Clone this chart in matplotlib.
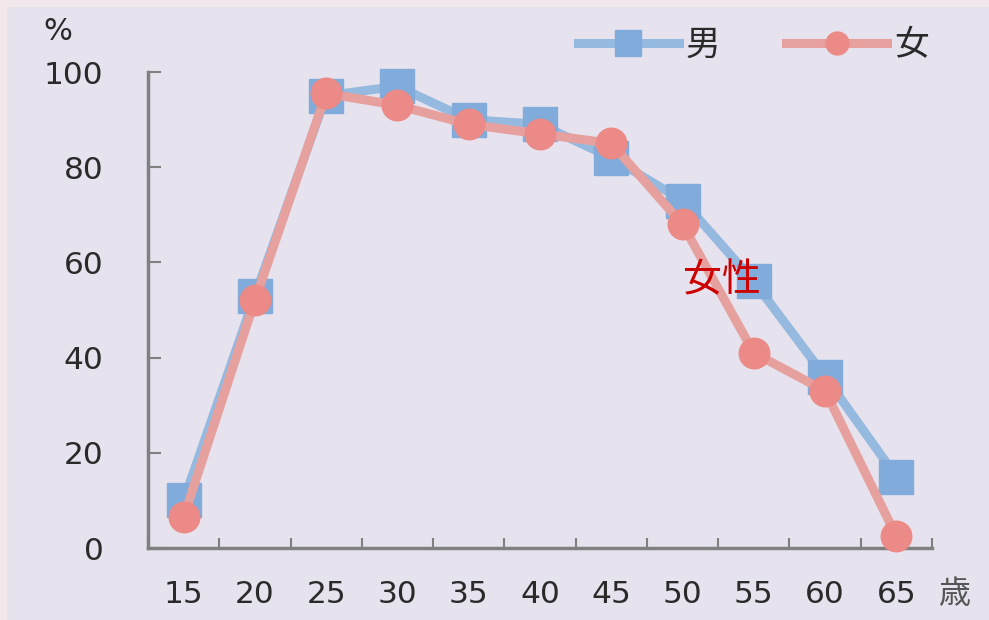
import numpy as np
import matplotlib.pyplot as plt
from matplotlib.patches import Rectangle

plt.rcParams['font.family'] = ['DejaVu Sans', 'Noto Sans CJK JP']

# age groups and labour force participation (%)
ages = ['15', '20', '25', '30', '35', '40', '45', '50', '55', '60', '65']
male = [10, 53, 95, 97, 90, 89, 82, 73, 56, 36, 15]
female = [6.5, 52, 95.5, 93, 89, 87, 85, 68, 41, 33, 2.5]

fig = plt.figure(figsize=(9.89, 6.2), dpi=100)
fig.patch.set_facecolor('#f2e8ec')
fig.patches.append(Rectangle((7 / 989, 0), 1, 1 - 7 / 620, transform=fig.transFigure,
                             facecolor='#e7e3ee', edgecolor='none', zorder=-10))

ax = fig.add_axes([148 / 989, 1 - 548 / 620, (932 - 148) / 989, (548 - 72) / 620])
ax.set_facecolor('none')

x = np.arange(len(ages))
ax.plot(x, male, color='#96b9df', lw=6.5, marker='s', ms=25,
        mfc='#80abda', mec='#80abda', label='男', zorder=3, clip_on=False)
ax.plot(x, female, color='#e6a09e', lw=6.5, marker='o', ms=22,
        mfc='#eb8a86', mec='#eb8a86', label='女', zorder=4, clip_on=False)

ax.set_xlim(-0.5, len(ages) - 0.5)
ax.set_ylim(0, 100)
ax.set_yticks([0, 20, 40, 60, 80, 100])
ax.set_xticks(x)
ax.set_xticklabels(ages)
ax.set_xticks(np.arange(-0.5, len(ages)), minor=True)

for s in ['top', 'right']:
    ax.spines[s].set_visible(False)
for s in ['left', 'bottom']:
    ax.spines[s].set_color('#808080')
    ax.spines[s].set_linewidth(2.5)

ax.tick_params(axis='x', which='major', length=0, pad=23, labelsize=22.5, labelcolor='#2a2a2a')
ax.tick_params(axis='x', which='minor', length=7, width=1.5, direction='in', color='#808080')
ax.tick_params(axis='y', length=9, width=1.5, direction='in', color='#808080',
               pad=32, labelsize=22.5, labelcolor='#2a2a2a')

fig.text(58 / 989, 1 - 32 / 620, '%', fontsize=22, color='#2a2a2a', ha='center', va='center')
fig.text(955 / 989, 1 - 594 / 620, '歳', fontsize=23, color='#555555', ha='center', va='center')
fig.text(722 / 989, 1 - 280 / 620, '女性', fontsize=28, color='#cc0000', ha='center', va='center',
         zorder=10)

leg = ax.legend(loc='center right', bbox_to_anchor=(960 / 989, 1 - 45 / 620),
                bbox_transform=fig.transFigure, ncol=2, frameon=False,
                fontsize=25, handlelength=2.9, markerscale=0.75, columnspacing=1.9,
                handletextpad=0.2)
for t in leg.get_texts():
    t.set_color('#2a2a2a')

fig.savefig('out.png', dpi=100, facecolor=fig.get_facecolor())
